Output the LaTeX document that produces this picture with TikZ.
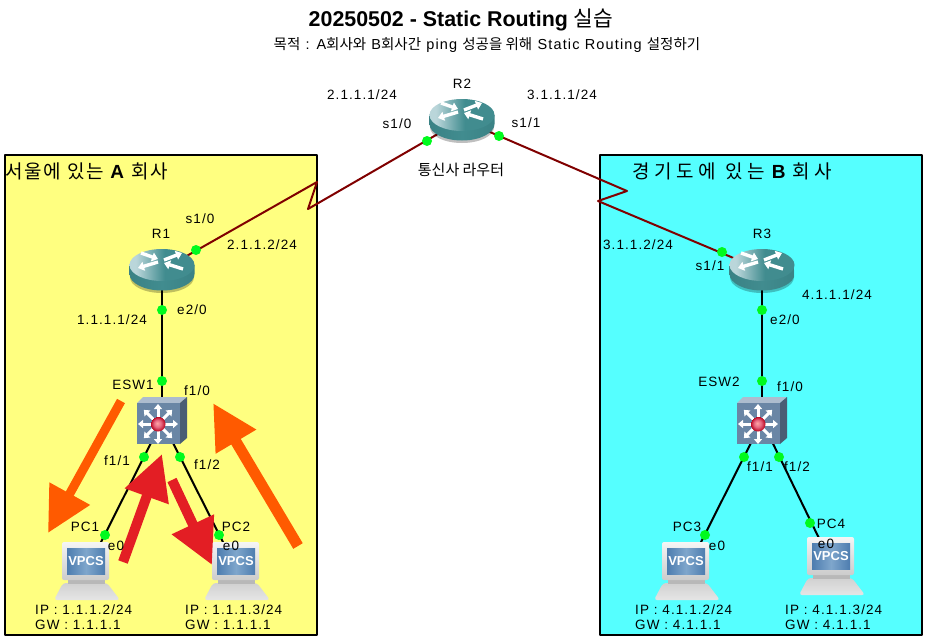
\documentclass[tikz,border=0pt]{standalone}
\usepackage{fontspec}
\setmainfont[LetterSpace=8]{Liberation Sans}
\newfontfamily\titlefont{Liberation Sans}
\newfontfamily\krfont{Noto Sans CJK KR}
\newfontfamily\krtight[LetterSpace=9]{Noto Sans CJK KR}
\newfontfamily\krwide[LetterSpace=25]{Noto Sans CJK KR}
\newcommand{\kr}[1]{{\krfont #1}}
\usetikzlibrary{arrows.meta}
\definecolor{zoneyellow}{HTML}{FFFF80}
\definecolor{zonecyan}{HTML}{55FFFF}
\definecolor{serialred}{HTML}{800000}
\definecolor{portgreen}{HTML}{00FA1E}
\definecolor{flowred}{HTML}{E31E24}
\definecolor{floworange}{HTML}{FF5A00}
\definecolor{routerteal}{HTML}{418C8F}
\definecolor{routerdark}{HTML}{3A8285}
\definecolor{routerlight}{HTML}{BAD6DA}
\definecolor{switchblue}{HTML}{6A86A5}
\definecolor{screenblue}{HTML}{4D7DAF}
\definecolor{screenlight}{HTML}{7FA6CC}
\pgfdeclarehorizontalshading{routertop}{100bp}{color(0bp)=(routerlight); color(30bp)=(routerlight); color(52bp)=(routerteal); color(100bp)=(routerteal)}
\pgfdeclareradialshading{switchball}{\pgfpoint{-3bp}{3bp}}{color(0bp)=(red!35!white); color(12bp)=(red!55!white!90!blue); color(25bp)=(red!80!black!90!blue)}
\tikzset{
    hub/.style={circle,inner sep=0pt,minimum size=20pt},
    lbl/.style={inner sep=0pt,font=\fontsize{13.5}{15}\selectfont},
    goallbl/.style={inner sep=0pt,font=\fontsize{14.5}{16}\selectfont},
    hostlbl/.style={lbl,anchor=north west,align=left},
    zonelbl/.style={inner sep=0pt,anchor=west,font=\fontsize{19}{22}\selectfont},
    portdot/.style={circle,fill=portgreen,inner sep=0pt,minimum size=10pt},
    ether/.style={black,line width=2pt},
    serial/.style={serialred,line width=2pt},
    floworangearrow/.style={floworange,-{Triangle[length=45pt,width=44pt]}},
    flowredarrow/.style={flowred,line width=10pt,-{Triangle[length=45pt,width=44pt]}},
    routerarrow/.style={white,line width=3.4pt,line cap=butt,-{Triangle[length=6pt,width=9pt]}},
    pics/routericon/.style={code={
        \fill[black,opacity=.25] (-32,0) -- (-32,7) .. controls (-32,16) and (-18,23) .. (0,23) .. controls (18,23) and (32,16) .. (32,7) -- (32,0) -- cycle;
        \path[left color=routerdark,right color=routerdark,middle color=routerteal] (-32.5,-5) -- (-32.5,4) .. controls (-32.5,13) and (-18,20.5) .. (0,20.5) .. controls (18,20.5) and (32.5,13) .. (32.5,4) -- (32.5,-5) -- cycle;
        \path[shading=routertop] (0,-5) ellipse [x radius=32.5pt,y radius=16pt];
        \draw[routerarrow] (-21,-17) -- (-4,-11);
        \draw[routerarrow] (2,-10) -- (20,-17);
        \draw[routerarrow] (-4,-8) -- (-24,-2);
        \draw[routerarrow] (21,-1) -- (2,-7);
    }},
    pics/switchicon/.style={code={
        \fill[switchblue!55!white] (-25,-18) -- (-19,-24) -- (25,-24) -- (18,-18) -- cycle;
        \fill[switchblue!70!black] (18,-18) -- (25,-24) -- (25,17) -- (18,23) -- cycle;
        \fill[switchblue] (-25,-18) rectangle (18,23);
        \foreach \a in {0,45,...,315}
            \draw[white,line width=3pt,line cap=butt,-{Triangle[length=5pt,width=8pt]}] (-4,3) -- +(\a:20pt);
        \path[shading=switchball] (-4,3) circle [radius=7.5pt];
    }},
    pics/pcicon/.style={code={
        \path[top color=white!82!black,bottom color=white!90!black,rounded corners=3pt] (-33,30) -- (-24,13) -- (20,13) -- (33,30) -- cycle;
        \fill[white!72!black] (-19,9) rectangle (18,14);
        \path[top color=white!96!black,bottom color=white!80!black,rounded corners=2pt] (-25,-28) rectangle (22,10);
        \path[left color=screenblue,right color=screenblue,middle color=screenlight] (-20,-22) rectangle (18,4);
        \node[inner sep=0pt,white,font=\titlefont\bfseries\fontsize{13}{13}\selectfont] (scr) at (-1,-9) {VPCS};
    }}
}
\begin{document}
\begin{tikzpicture}[line cap=round,line join=round,x=1pt,y=-1pt]
    \useasboundingbox (0,0) rectangle (927,640);
    \draw[line width=2pt,fill=zoneyellow] (5,155) rectangle (317,635);
    \draw[line width=2pt,fill=zonecyan] (600,155) rectangle (922,635);

    \node[hub] (R1) at (162,270) {};
    \node[hub] (R2) at (462,120) {};
    \node[hub] (R3) at (762,270) {};
    \node[hub] (ESW1) at (162,421) {};
    \node[hub] (ESW2) at (762,421) {};
    \node[hub] (PC1) at (87,570) {};
    \node[hub] (PC2) at (237,570) {};
    \node[hub] (PC3) at (687,570) {};
    \node[hub] (PC4) at (832,565) {};
    \coordinate (bendAtop) at (317,182);
    \coordinate (bendAlow) at (308,209);
    \coordinate (bendBtop) at (627,191);
    \coordinate (bendBlow) at (598,201);

    \draw[serial] (R1) -- (bendAtop) -- (bendAlow) -- (R2);
    \draw[serial] (R2) -- (bendBtop) -- (bendBlow) -- (R3);
    \draw[ether] (R1) -- (ESW1);
    \draw[ether] (ESW1) -- (PC1);
    \draw[ether] (ESW1) -- (PC2);
    \draw[ether] (R3) -- (ESW2);
    \draw[ether] (ESW2) -- (PC3);
    \draw[ether] (ESW2) -- (PC4);

    \pic at (R1) {routericon};
    \pic at (R2) {routericon};
    \pic at (R3) {routericon};
    \pic at (ESW1) {switchicon};
    \pic at (ESW2) {switchicon};
    \pic (iconA) at (PC1) {pcicon};
    \pic (iconB) at (PC2) {pcicon};
    \pic (iconC) at (PC3) {pcicon};
    \pic (iconD) at (PC4) {pcicon};

    \foreach \nm/\px/\py in {dotRa/427/141,dotRb/499/136,dotRc/196/250,dotRd/162/310,dotSa/162/381,dotSb/144/457,dotSc/180/457,dotPa/105/535,dotPb/219/535,dotRe/722/252,dotRf/762/310,dotSd/762/381,dotSe/744/457,dotSf/779/457,dotPc/705/535,dotPd/810/523}
        \node[portdot] (\nm) at (\px,\py) {};

    \coordinate (orangeAs) at (121,401);
    \coordinate (orangeAe) at (48,533);
    \coordinate (orangeBs) at (298,546);
    \coordinate (orangeBe) at (213,403);
    \coordinate (redAs) at (123,562);
    \coordinate (redAe) at (162,454);
    \coordinate (redBs) at (172,480);
    \coordinate (redBe) at (212,565);
    \draw[floworangearrow,line width=9pt,line cap=butt] (orangeAs) -- (orangeAe);
    \draw[floworangearrow,line width=11pt,line cap=butt] (orangeBs) -- (orangeBe);
    \draw[flowredarrow,line cap=butt] (redAs) -- (redAe);
    \draw[flowredarrow,line cap=butt] (redBs) -- (redBe);

    \node[inner sep=0pt,font=\titlefont\bfseries\fontsize{21.4}{24}\selectfont] (title) at (461,20) {20250502 - Static Routing \kr{\mdseries 실습}};
    \node[goallbl] (goal) at (487,45) {\kr{목적} : A\kr{회사와} B\kr{회사간} ping \kr{성공을 위해} Static Routing \kr{설정하기}};
    \node[zonelbl] (zoneA) at (5,171) {{\krtight 서울에 있는} {\titlefont\bfseries A} {\krtight 회사}};
    \node[zonelbl] (zoneB) at (632,171) {{\krwide 경기도에 있는} {\titlefont\bfseries B} {\krwide 회사}};

    \node[lbl] (nameR2) at (462,84) {R2};
    \node[lbl] (ipRa) at (362,95) {2.1.1.1/24};
    \node[lbl] (ipRb) at (562,95) {3.1.1.1/24};
    \node[lbl] (portRa) at (397,124) {s1/0};
    \node[lbl] (portRb) at (526,123) {s1/1};
    \node[lbl] (isp) at (461,170) {\kr{\fontsize{15}{17}\selectfont 통신사 라우터}};

    \node[lbl] (nameR1) at (161,234) {R1};
    \node[lbl] (portRc) at (200,219) {s1/0};
    \node[lbl] (ipRc) at (262,245) {2.1.1.2/24};
    \node[lbl] (portRd) at (192,310) {e2/0};
    \node[lbl] (ipRd) at (112,320) {1.1.1.1/24};
    \node[lbl] (nameSa) at (133,385) {ESW1};
    \node[lbl] (portSa) at (197,391) {f1/0};
    \node[lbl] (portSb) at (117,461) {f1/1};
    \node[lbl] (portSc) at (207,465) {f1/2};
    \node[lbl] (namePa) at (85,527) {PC1};
    \node[lbl] (portPa) at (116,546) {e0};
    \node[lbl] (namePb) at (236,527) {PC2};
    \node[lbl] (portPb) at (231,546) {e0};
    \node[hostlbl] (hostA) at (35,605) {IP : 1.1.1.2/24\\GW : 1.1.1.1};
    \node[hostlbl] (hostB) at (185,605) {IP : 1.1.1.3/24\\GW : 1.1.1.1};

    \node[lbl] (nameR3) at (762,234) {R3};
    \node[lbl] (ipRe) at (638,245) {3.1.1.2/24};
    \node[lbl] (portRe) at (710,266) {s1/1};
    \node[lbl] (ipRf) at (837,295) {4.1.1.1/24};
    \node[lbl] (portRf) at (785,320) {e2/0};
    \node[lbl] (nameSb) at (719,382) {ESW2};
    \node[lbl] (portSd) at (790,387) {f1/0};
    \node[lbl] (portSe) at (760,467) {f1/1};
    \node[lbl] (portSf) at (797,467) {f1/2};
    \node[lbl] (namePc) at (687,527) {PC3};
    \node[lbl] (portPc) at (717,546) {e0};
    \node[lbl] (namePd) at (831,524) {PC4};
    \node[lbl] (portPd) at (826,544) {e0};
    \node[hostlbl] (hostC) at (635,605) {IP : 4.1.1.2/24\\GW : 4.1.1.1};
    \node[hostlbl] (hostD) at (785,605) {IP : 4.1.1.3/24\\GW : 4.1.1.1};
\end{tikzpicture}
\end{document}
